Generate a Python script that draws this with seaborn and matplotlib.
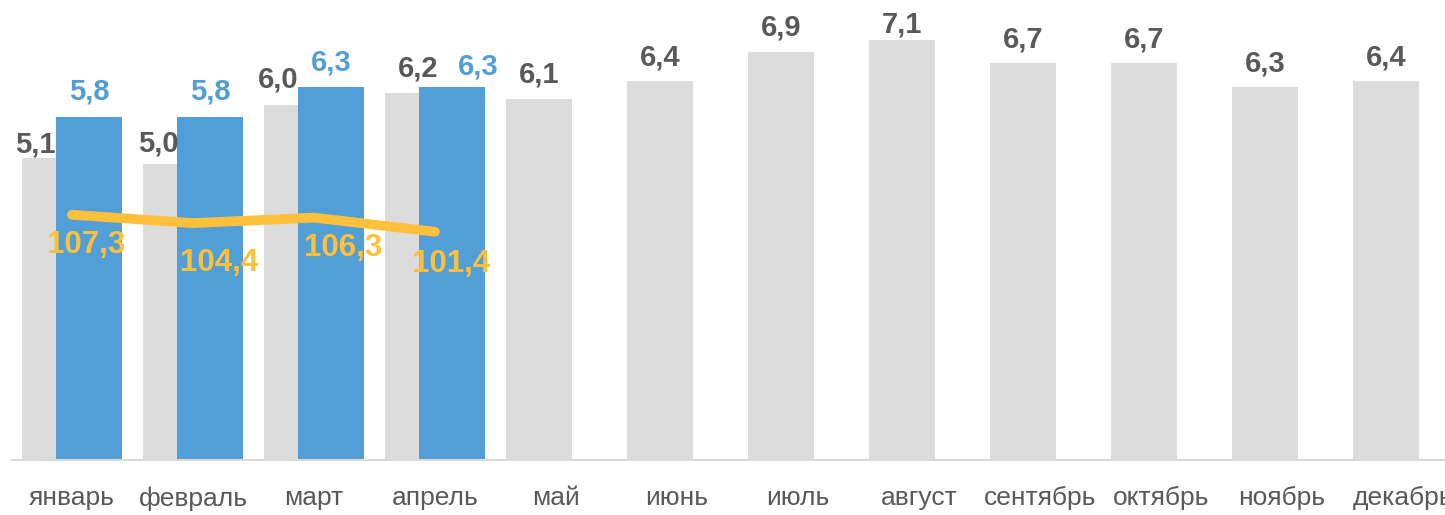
import numpy as np
import pandas as pd
import matplotlib
matplotlib.use("Agg")
import matplotlib.pyplot as plt
import seaborn as sns

months = ["январь", "февраль", "март", "апрель", "май", "июнь",
          "июль", "август", "сентябрь", "октябрь", "ноябрь", "декабрь"]
prev_year = [5.1, 5.0, 6.0, 6.2, 6.1, 6.4, 6.9, 7.1, 6.7, 6.7, 6.3, 6.4]
curr_year = [5.8, 5.8, 6.3, 6.3]
growth_pct = [107.3, 104.4, 106.3, 101.4]

GREY = "#DCDCDC"
BLUE = "#519FD6"
YELLOW = "#FFC13B"
DARK = "#595959"


def fmt(v):
    return f"{v:.1f}".replace(".", ",")


sns.set_theme(style="white")
plt.rcParams["font.family"] = ["Liberation Sans", "DejaVu Sans"]

fig = plt.figure(figsize=(14.45, 5.15), dpi=100)
ax = fig.add_axes([12 / 1445, 55 / 515, 1433 / 1445, 460 / 515])

shift = 0.14
width = 0.545
idx = np.arange(len(months))
df_prev = pd.DataFrame({"x": idx - shift, "v": prev_year})
df_curr = pd.DataFrame({"x": idx[:len(curr_year)] + shift, "v": curr_year})

sns.barplot(data=df_prev, x="x", y="v", native_scale=True, color=GREY,
            width=width, saturation=1, linewidth=0, ax=ax, zorder=1)
sns.barplot(data=df_curr, x="x", y="v", native_scale=True, color=BLUE,
            width=width, saturation=1, linewidth=0, ax=ax, zorder=2)

# label offsets (pixels), some labels were moved by hand in the original
prev_dx = [-20, -18, -19, 0, 0, 0, 0, 0, 0, 0, 0, 0]
prev_dy = [-10, -4, 1, 0, 0, 0, 0, -9, 0, 0, 0, 0]
curr_dx = [0, 0, 0, 26]
curr_dy = [0, 0, 0, -4]
for i, v in enumerate(prev_year):
    ax.annotate(fmt(v), (i - shift, v), xytext=(prev_dx[i], 10 + prev_dy[i]),
                textcoords="offset pixels", ha="center", va="bottom",
                fontsize=21, fontweight="bold", color=DARK, zorder=5)
for i, v in enumerate(curr_year):
    ax.annotate(fmt(v), (i + shift, v), xytext=(curr_dx[i], 11 + curr_dy[i]),
                textcoords="offset pixels", ha="center", va="bottom",
                fontsize=21, fontweight="bold", color=BLUE, zorder=5)

ax.set_xlim(-0.496, 11.35)
ax.set_ylim(0, 7.77)
ax.set_xticks(idx)
ax.set_xticklabels(months, fontsize=19, color=DARK)
ax.tick_params(axis="x", length=0, pad=19)
ax.set_yticks([])
ax.set_xlabel("")
ax.set_ylabel("")
for s in ["top", "right", "left"]:
    ax.spines[s].set_visible(False)
ax.spines["bottom"].set_color("#D9D9D9")
ax.spines["bottom"].set_linewidth(1.5)

ax2 = ax.twinx()
sns.lineplot(x=idx[:len(growth_pct)], y=growth_pct, color=YELLOW, linewidth=7,
             ax=ax2, solid_capstyle="round", solid_joinstyle="round", zorder=4)
ax2.set_ylim(22, 182)
ax2.set_yticks([])
ax2.set_ylabel("")
for s in ax2.spines.values():
    s.set_visible(False)

line_dx = [14, 26, 29, 16]
line_dy = [-30, -40, -30, -32]
for i, v in enumerate(growth_pct):
    ax2.annotate(fmt(v), (i, v), xytext=(line_dx[i], line_dy[i]),
                 textcoords="offset pixels", ha="center", va="center",
                 fontsize=22.5, fontweight="bold", color=YELLOW, zorder=6)

fig.savefig("out.png", dpi=100)
